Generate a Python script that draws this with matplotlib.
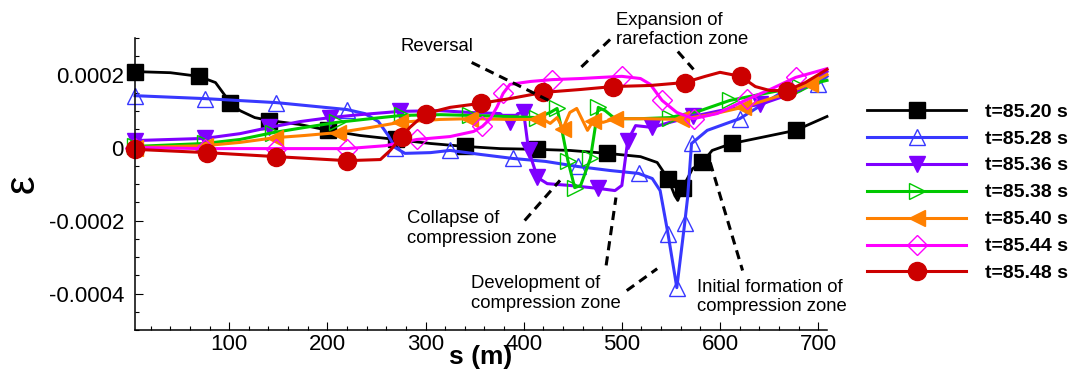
import numpy as np
import matplotlib
matplotlib.use('Agg')
import matplotlib.pyplot as plt
from matplotlib.ticker import MultipleLocator, FuncFormatter

plt.rcParams['font.family'] = ['Liberation Sans', 'DejaVu Sans']

# strain along the pipe, eps values stored in units of 1e-4
SCALE = 1e-4

s_8520 = [4, 40, 69, 86, 101, 111, 126, 141, 172, 201, 233, 270, 305, 340, 376, 414, 447, 485,
          519, 536, 547, 554, 557, 562, 572, 582, 592, 612, 641, 677, 709]
e_8520 = [2.08, 2.05, 1.95, 1.78, 1.23, 1.01, 0.82, 0.74, 0.63, 0.47, 0.33, 0.22, 0.11, 0.03,
          -0.03, -0.05, -0.08, -0.16, -0.25, -0.41, -0.85, -1.32, -1.45, -1.10, -0.58, -0.41,
          -0.08, 0.11, 0.27, 0.47, 0.85]
m_8520 = [0, 2, 4, 7, 9, 11, 13, 15, 17, 20, 23, 25, 27, 29]

s_8528 = [4, 75, 148, 220, 238, 252, 262, 269, 279, 305, 325, 356, 389, 422, 455, 488, 517,
          531, 539, 547, 556, 564, 567, 571, 587, 620, 661, 700, 709]
e_8528 = [1.42, 1.34, 1.23, 1.04, 0.93, 0.71, 0.33, 0.0, -0.16, -0.14, -0.08, -0.19, -0.30,
          -0.38, -0.52, -0.63, -0.71, -0.85, -1.18, -2.36, -3.84, -2.08, -1.37, 0.11, 0.47,
          0.79, 1.48, 1.75, 1.95]
m_8528 = [0, 1, 2, 3, 7, 10, 12, 14, 16, 19, 20, 21, 23, 25, 27]

s_8536 = [4, 75, 111, 141, 172, 203, 233, 274, 315, 345, 376, 386, 394, 400, 405, 414, 424,
          447, 476, 493, 500, 506, 514, 531, 549, 572, 600, 641, 682, 709]
e_8536 = [0.19, 0.25, 0.38, 0.55, 0.71, 0.82, 0.90, 0.99, 1.01, 0.96, 0.93, 0.69, 0.93, 0.96,
          -0.08, -0.82, -0.99, -1.04, -1.12, -1.18, -1.04, 0.19, 0.60, 0.55, 0.69, 0.85, 1.01,
          1.18, 1.56, 2.08]
m_8536 = [0, 1, 3, 5, 7, 11, 13, 14, 15, 18, 21, 23, 25, 27]

s_8538 = [4, 75, 111, 145, 177, 210, 244, 276, 315, 345, 381, 414, 427, 434, 439, 445, 452,
          458, 468, 476, 483, 493, 519, 549, 580, 610, 651, 682, 709]
e_8538 = [0.03, 0.11, 0.22, 0.41, 0.55, 0.69, 0.79, 0.88, 0.90, 0.88, 0.85, 0.82, 0.96, 1.07,
          0.47, -0.36, -1.10, -1.04, -0.30, 1.10, 1.01, 0.79, 0.79, 0.82, 1.01, 1.29, 1.51,
          1.67, 1.84]
m_8538 = [0, 1, 3, 5, 7, 9, 11, 13, 15, 16, 18, 19, 23, 25, 27]

s_8540 = [4, 75, 111, 147, 177, 211, 244, 274, 315, 345, 386, 414, 422, 427, 434, 440, 447,
          454, 465, 471, 481, 493, 524, 560, 590, 623, 661, 692, 709]
e_8540 = [0.0, 0.05, 0.14, 0.27, 0.33, 0.41, 0.55, 0.69, 0.77, 0.79, 0.77, 0.77, 0.74, 0.66,
          0.82, 0.52, 0.96, 1.07, 0.47, 0.74, 0.69, 0.79, 0.79, 0.77, 0.90, 1.10, 1.42, 1.75,
          2.0]
m_8540 = [0, 1, 3, 5, 7, 9, 11, 15, 19, 21, 23, 25, 27]

s_8544 = [4, 75, 148, 220, 259, 291, 325, 349, 358, 366, 373, 379, 386, 407, 429, 458, 478,
          500, 519, 529, 541, 556, 573, 597, 628, 651, 677, 709]
e_8544 = [0.0, -0.03, -0.03, -0.03, 0.05, 0.22, 0.30, 0.44, 0.58, 0.79, 1.12, 1.48, 1.73,
          1.81, 1.86, 1.89, 1.92, 1.95, 1.89, 1.73, 1.29, 0.96, 0.79, 0.93, 1.32, 1.59, 1.92,
          2.16]
m_8544 = [0, 1, 2, 3, 5, 8, 11, 14, 17, 20, 22, 24, 26]

s_8548 = [4, 77, 148, 220, 254, 264, 276, 284, 300, 325, 356, 386, 420, 458, 491, 529, 564,
          585, 600, 621, 636, 651, 668, 687, 709]
e_8548 = [-0.05, -0.14, -0.25, -0.36, -0.33, -0.08, 0.30, 0.55, 0.93, 1.10, 1.21, 1.34, 1.51,
          1.59, 1.67, 1.70, 1.78, 1.95, 2.06, 1.95, 1.67, 1.56, 1.56, 1.78, 2.14]
m_8548 = [0, 1, 2, 3, 6, 8, 10, 12, 14, 16, 19, 22]

labels = ['t=85.20 s', 't=85.28 s', 't=85.36 s', 't=85.38 s', 't=85.40 s', 't=85.44 s', 't=85.48 s']
colors = ['#000000', '#3838ff', '#7f00ff', '#00c800', '#ff8000', '#ff00ff', '#cc0000']
markers = ['s', '^', 'v', '>', '<', 'D', 'o']
filled = [True, False, True, False, True, False, True]
msizes = [11, 12, 11, 11, 11, 10, 13]

series = [(s_8520, e_8520, m_8520), (s_8528, e_8528, m_8528), (s_8536, e_8536, m_8536),
          (s_8538, e_8538, m_8538), (s_8540, e_8540, m_8540), (s_8544, e_8544, m_8544),
          (s_8548, e_8548, m_8548)]

# annotations: text, anchor (s, eps*1e4), and dashed leader lines
notes = [('Reversal', 274, 2.77),
         ('Expansion of\nrarefaction zone', 494, 3.22),
         ('Collapse of\ncompression zone', 281, -2.22),
         ('Development of\ncompression zone', 346, -4.0),
         ('Initial formation of\ncompression zone', 577, -4.10)]
leaders = [((347, 430), (2.33, 1.23)),
           ((488, 455), (2.96, 2.11)),
           ((557, 573), (2.63, 2.14)),
           ((401, 437), (-2.0, -0.90)),
           ((484, 494), (-3.23, -1.37)),
           ((505, 536), (-3.92, -3.32)),
           ((590, 623), (-0.41, -3.37))]

fig = plt.figure(figsize=(10.87, 3.72), dpi=100)
ax = fig.add_axes([0.1242, 0.1129, 0.6366, 0.7849])

for (s, e, mk), lab, c, m, f, ms in zip(series, labels, colors, markers, filled, msizes):
    lw = 2.0 if c == '#000000' else 2.2
    ax.plot(s, np.array(e) * SCALE, color=c, lw=lw, marker=m, markersize=ms, markevery=mk,
            markerfacecolor=c if f else 'none', markeredgecolor=c,
            markeredgewidth=1.0, label=lab, clip_on=False)

for xs, ys in leaders:
    ax.plot(xs, np.array(ys) * SCALE, color='black', lw=2.2, linestyle=(0, (3, 2)),
            clip_on=False, zorder=5)

for txt, x, y in notes:
    ax.text(x, y * SCALE, txt, fontsize=13.3, ha='left', va='center', linespacing=1.2,
            clip_on=False)

ax.set_xlim(4, 709)
ax.set_ylim(-0.0005, 0.0003)

ax.xaxis.set_major_locator(MultipleLocator(100))
ax.xaxis.set_minor_locator(MultipleLocator(20))
ax.yaxis.set_major_locator(MultipleLocator(0.0002))
ax.yaxis.set_minor_locator(MultipleLocator(0.00005))
ax.yaxis.set_major_formatter(FuncFormatter(lambda v, p: '0' if abs(v) < 1e-12 else f'{v:.4f}'))

ax.tick_params(which='both', direction='in', top=False, right=False, width=0.8, labelsize=16)
ax.tick_params(which='major', length=6)
ax.tick_params(which='minor', length=3)
ax.tick_params(axis='x', pad=3)
ax.tick_params(axis='y', pad=8)

for side in ['top', 'right']:
    ax.spines[side].set_visible(False)
for side in ['left', 'bottom']:
    ax.spines[side].set_linewidth(1.1)

ax.set_xlabel('s (m)', fontsize=19, fontweight='bold', va='center')
ax.xaxis.set_label_coords(0.5, -0.093)
ax.set_ylabel('ε', fontsize=30, va='center')
ax.yaxis.set_label_coords(-0.163, 0.5)

fig.legend(loc='upper left', bbox_to_anchor=(867 / 1087, 1 - 103 / 372), frameon=False,
           prop={'weight': 'bold', 'size': 14}, handlelength=5.1,
           handletextpad=0.96, labelspacing=0.48, borderpad=0, borderaxespad=0)

fig.savefig('out.png', dpi=100)
